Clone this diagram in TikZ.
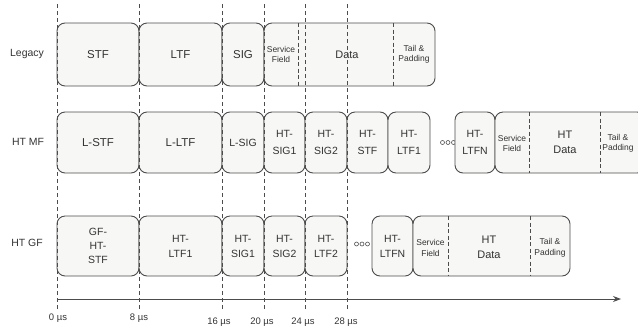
\documentclass[tikz,border=0pt]{standalone}
\usepackage{fontspec}
\setmainfont{Liberation Sans}
\usetikzlibrary{arrows.meta}
\definecolor{ln}{HTML}{4C4C4C}
\definecolor{tx}{HTML}{333333}
\definecolor{bx}{HTML}{F7F7F5}
\begin{document}
\begin{tikzpicture}[x=1bp,y=-1bp,
  pbox/.style={draw=ln, line width=0.9bp, rounded corners=8bp, fill=bx, inner sep=0pt, outer sep=0pt,
    anchor=north west, align=center, text=tx, font=\fontsize{11.5}{16}\selectfont},
  nbox/.style={pbox, font=\fontsize{10.5}{17}\selectfont},
  gbox/.style={pbox, font=\fontsize{10.5}{15}\selectfont},
  small/.style={align=center, text=tx, inner sep=0pt, font=\fontsize{8.5}{10.5}\selectfont},
  big/.style={align=center, text=tx, inner sep=0pt, font=\fontsize{11}{15}\selectfont},
  rowlabel/.style={text=tx, inner sep=0pt, font=\fontsize{10.5}{12}\selectfont},
  tick/.style={text=tx, inner sep=0pt, font=\fontsize{9.5}{11}\selectfont},
  sepline/.style={draw=ln, line width=0.8bp, dash pattern=on 4bp off 2.5bp},
  tline/.style={draw=ln, line width=0.8bp, dash pattern=on 4bp off 3bp},
  axisline/.style={draw=ln, line width=0.9bp, -{Stealth[length=8bp,width=6bp]}},
  dots/.style={draw=ln, line width=0.6bp}
]
\useasboundingbox (0,0) rectangle (638,328);

% ---------- Legacy ----------
\node[rowlabel] (lbllegacy) at (27,54) {Legacy};
\node[pbox, minimum width=82bp, minimum height=63bp] (lstf) at (57,23) {STF};
\node[pbox, minimum width=83bp, minimum height=63bp] (lltf) at (139,23) {LTF};
\node[pbox, minimum width=42bp, minimum height=63bp] (lsig) at (222,23) {SIG};
\node[pbox, minimum width=171bp, minimum height=63bp] (ldat) at (264,23) {};
\draw[sepline] ([xshift=34bp]ldat.north west) -- ([xshift=34bp]ldat.south west);
\draw[sepline] ([xshift=129bp]ldat.north west) -- ([xshift=129bp]ldat.south west);
\node[small] (lsvc) at ([xshift=17bp]ldat.west) {Service\\Field};
\node[big] (ldata) at ([xshift=83bp]ldat.west) {Data};
\node[small] (ltail) at ([xshift=150bp]ldat.west) {Tail \&\\Padding};

% ---------- HT MF ----------
\node[rowlabel] (lblmf) at (28,142) {HT MF};
\node[pbox, minimum width=82bp, minimum height=61bp] (mstf) at (57,112) {L-STF};
\node[pbox, minimum width=83bp, minimum height=61bp] (mltf) at (139,112) {L-LTF};
\node[nbox, minimum width=42bp, minimum height=61bp] (msig) at (222,112) {L-SIG};
\node[nbox, minimum width=41bp, minimum height=61bp] (msig1) at (264,112) {HT-\\SIG1};
\node[nbox, minimum width=42bp, minimum height=61bp] (msig2) at (305,112) {HT-\\SIG2};
\node[nbox, minimum width=41bp, minimum height=61bp] (mhtstf) at (347,112) {HT-\\STF};
\node[nbox, minimum width=42bp, minimum height=61bp] (mltf1) at (388,112) {HT-\\LTF1};
\foreach \i in {0,1,2} \draw[dots] (442.5+\i*5.5,142.5) circle (2bp);
\node[nbox, minimum width=40bp, minimum height=61bp] (mltfn) at (455,112) {HT-\\LTFN};
\node[pbox, minimum width=150bp, minimum height=61bp] (mdat) at (495,112) {};
\draw[sepline] ([xshift=34bp]mdat.north west) -- ([xshift=34bp]mdat.south west);
\draw[sepline] ([xshift=105bp]mdat.north west) -- ([xshift=105bp]mdat.south west);
\node[small] (msvc) at ([xshift=17bp,yshift=-1bp]mdat.west) {Service\\Field};
\node[big] (mdata) at ([xshift=70bp]mdat.west) {HT\\Data};
\node[small] (mtail) at ([xshift=123bp,yshift=-1bp]mdat.west) {Tail \&\\Padding};

% ---------- HT GF ----------
\node[rowlabel] (lblgf) at (27,243) {HT GF};
\node[gbox, minimum width=82bp, minimum height=60bp, font=\fontsize{10.5}{14}\selectfont] (gstf) at (57,216) {GF-\\HT-\\STF};
\node[gbox, minimum width=83bp, minimum height=60bp] (gltf1) at (139,216) {HT-\\LTF1};
\node[gbox, minimum width=42bp, minimum height=60bp] (gsig1) at (222,216) {HT-\\SIG1};
\node[gbox, minimum width=41bp, minimum height=60bp] (gsig2) at (264,216) {HT-\\SIG2};
\node[gbox, minimum width=42bp, minimum height=60bp] (gltf2) at (305,216) {HT-\\LTF2};
\foreach \i in {0,1,2} \draw[dots] (356.5+\i*5.5,244) circle (2bp);
\node[gbox, minimum width=41bp, minimum height=60bp] (gltfn) at (372,216) {HT-\\LTFN};
\node[pbox, minimum width=157bp, minimum height=60bp] (gdat) at (413,216) {};
\draw[sepline] ([xshift=35bp]gdat.north west) -- ([xshift=35bp]gdat.south west);
\draw[sepline] ([xshift=117bp]gdat.north west) -- ([xshift=117bp]gdat.south west);
\node[small] (gsvc) at ([xshift=17.5bp,yshift=-2bp]gdat.west) {Service\\Field};
\node[big] (gdata) at ([xshift=76bp,yshift=-1bp]gdat.west) {HT\\Data};
\node[small] (gtail) at ([xshift=137bp,yshift=-2bp]gdat.west) {Tail \&\\Padding};

% ---------- time lines ----------
\foreach \n/\x in {a/57,b/139,c/222,d/264,e/305,f/347}{
  \coordinate (top\n) at (\x,4);
  \coordinate (bot\n) at (\x,310);
  \draw[tline] (top\n) -- (bot\n);
}

% ---------- axis ----------
\coordinate (axs) at (57,299);
\coordinate (axe) at (621,299);
\draw[axisline] (axs) -- (axe);
\node[tick] (t0) at (58,318) {0 µs};
\node[tick] (t8) at (139,318) {8 µs};
\node[tick] (t16) at (219,322) {16 µs};
\node[tick] (t20) at (262,322) {20 µs};
\node[tick] (t24) at (303,322) {24 µs};
\node[tick] (t28) at (346,322) {28 µs};
\end{tikzpicture}
\end{document}
